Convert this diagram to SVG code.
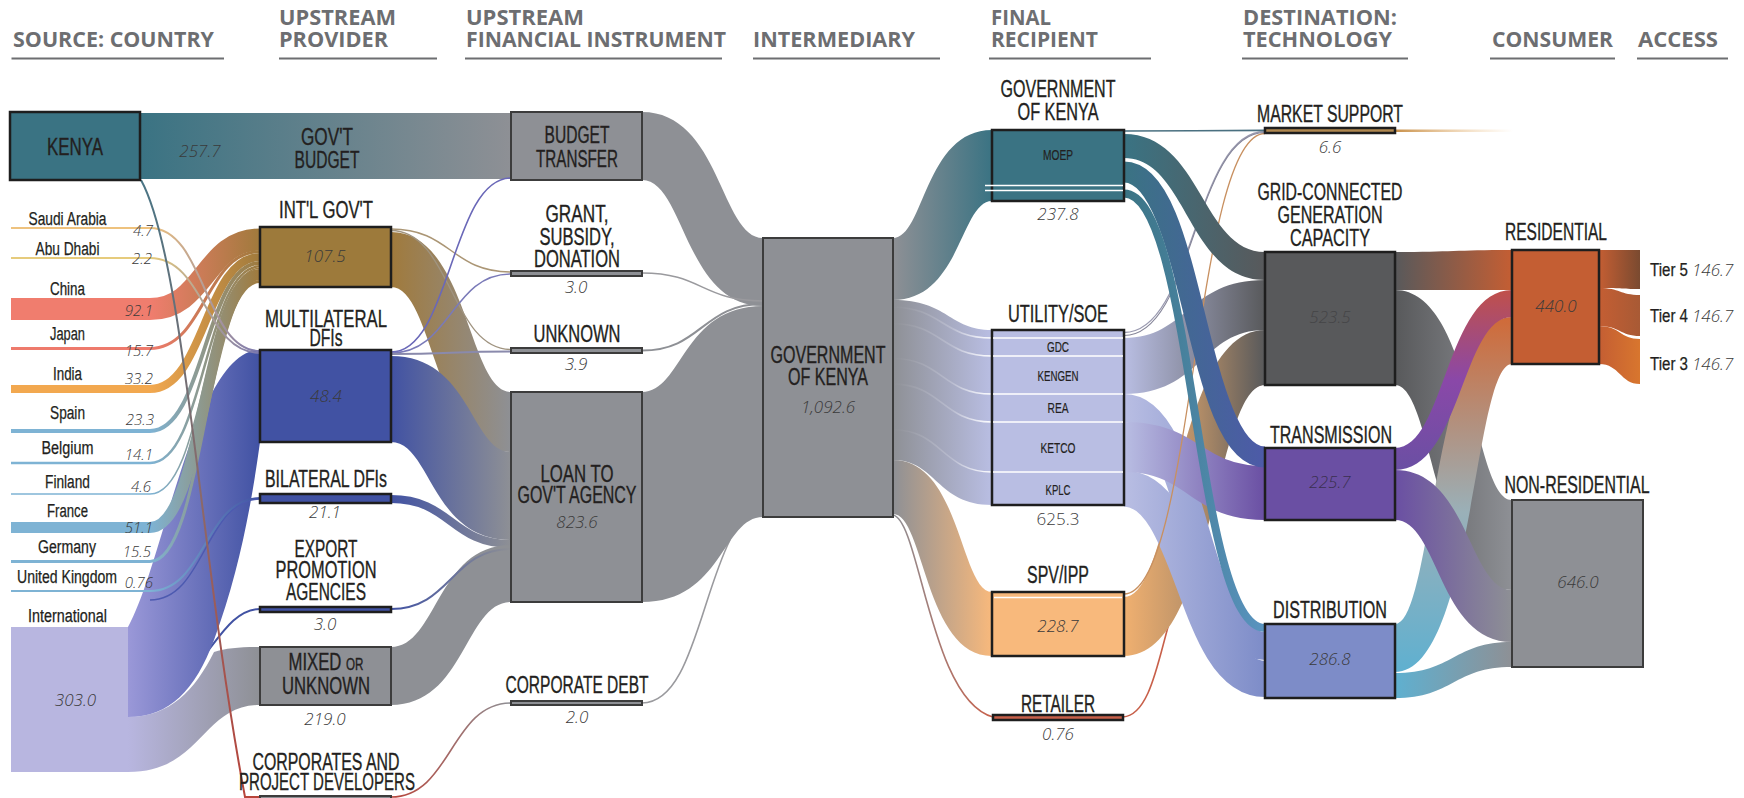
<svg xmlns="http://www.w3.org/2000/svg" width="1744" height="798" viewBox="0 0 1744 798">
<defs>
<style>
.hdr{font-family:"Open Sans","Liberation Sans",Arial,sans-serif;font-weight:700;font-size:21px;fill:#6d6e71}
.rule{stroke:#6d6e71;stroke-width:2}
.lbl{font-family:"Liberation Sans Narrow","Liberation Sans",Arial,sans-serif;font-size:23px;fill:#231f20;stroke:#231f20;stroke-width:0.35;text-anchor:middle}
.cty{font-size:18px;stroke-width:0.25}
.sub{font-size:15px;stroke-width:0.2}
.val{font-family:"Open Sans","Liberation Sans",Arial,sans-serif;font-style:italic;font-weight:300;font-size:17px;fill:#3a3a3a;text-anchor:middle}
.cv{font-size:15px;text-anchor:end}
.up{font-style:normal}
.box{stroke:#1e1e1e;stroke-width:2.5}
.gbox{fill:#8e9095;stroke:#3c3c3c;stroke-width:2}
.ln{fill:none}
.sep{fill:none;stroke:#fff;stroke-width:1.6}
.gray{fill:#8e9095}
</style>
<linearGradient id="gKB"><stop offset="0" stop-color="#3a7383"/><stop offset="1" stop-color="#8e9095"/></linearGradient>
<linearGradient id="gCn"><stop offset="0" stop-color="#f07d6e"/><stop offset=".56" stop-color="#f07d6e"/><stop offset="1" stop-color="#a07a3c"/></linearGradient>
<linearGradient id="gJp"><stop offset="0" stop-color="#ee7a6c"/><stop offset=".56" stop-color="#ee7a6c"/><stop offset="1" stop-color="#a07a3c"/></linearGradient>
<linearGradient id="gIn"><stop offset="0" stop-color="#f2a84f"/><stop offset=".56" stop-color="#f2a84f"/><stop offset="1" stop-color="#a07a3c"/></linearGradient>
<linearGradient id="gBl"><stop offset="0" stop-color="#7eb3d4"/><stop offset=".56" stop-color="#7eb3d4"/><stop offset="1" stop-color="#a07a3c"/></linearGradient>
<linearGradient id="gBlM"><stop offset="0" stop-color="#7eb3d4"/><stop offset=".56" stop-color="#7eb3d4"/><stop offset="1" stop-color="#4152a3"/></linearGradient>
<linearGradient id="gSa"><stop offset="0" stop-color="#eec27e"/><stop offset=".56" stop-color="#eec27e"/><stop offset="1" stop-color="#7a78b0"/></linearGradient>
<linearGradient id="gAb"><stop offset="0" stop-color="#e6cb7c"/><stop offset=".56" stop-color="#e6cb7c"/><stop offset="1" stop-color="#7a78b0"/></linearGradient>
<linearGradient id="gKR" x1="0" y1="0" x2="0" y2="1"><stop offset="0" stop-color="#4a7585"/><stop offset=".5" stop-color="#8a6a6a"/><stop offset="1" stop-color="#b8443a"/></linearGradient>
<linearGradient id="gIntML"><stop offset="0" stop-color="#9a98d8"/><stop offset="1" stop-color="#4152a3"/></linearGradient>
<linearGradient id="gIntGr"><stop offset="0" stop-color="#b8b6e0"/><stop offset="1" stop-color="#8e9095"/></linearGradient>
<linearGradient id="gIGGr"><stop offset="0" stop-color="#a07a3c"/><stop offset="1" stop-color="#8e9095"/></linearGradient>
<linearGradient id="gMLGr"><stop offset="0" stop-color="#4152a3"/><stop offset="1" stop-color="#8e9095"/></linearGradient>
<linearGradient id="gRedGr"><stop offset="0" stop-color="#b8443a"/><stop offset="1" stop-color="#8e9095"/></linearGradient>
<linearGradient id="gGrTeal"><stop offset="0" stop-color="#8e9095"/><stop offset="1" stop-color="#3a7383"/></linearGradient>
<linearGradient id="gGrLav"><stop offset="0" stop-color="#8e9095"/><stop offset="1" stop-color="#b9bee3"/></linearGradient>
<linearGradient id="gGrOr"><stop offset="0" stop-color="#8e9095"/><stop offset="1" stop-color="#f8b97c"/></linearGradient>
<linearGradient id="gGrRed"><stop offset="0" stop-color="#8e9095"/><stop offset="1" stop-color="#c8604a"/></linearGradient>
<linearGradient id="gWf"><stop offset="0" stop-color="#fff" stop-opacity="0"/><stop offset=".6" stop-color="#fff" stop-opacity="0.2"/><stop offset="1" stop-color="#fff" stop-opacity="1"/></linearGradient>
<linearGradient id="gTealDk"><stop offset="0" stop-color="#3a7383"/><stop offset="1" stop-color="#58595b"/></linearGradient>
<linearGradient id="gTealBl"><stop offset="0" stop-color="#3a7383"/><stop offset="1" stop-color="#4d5aa8"/></linearGradient>
<linearGradient id="gTealDi"><stop offset="0" stop-color="#3a7383"/><stop offset="1" stop-color="#5a94c0"/></linearGradient>
<linearGradient id="gLavDk"><stop offset="0" stop-color="#b9bee3"/><stop offset="1" stop-color="#58595b"/></linearGradient>
<linearGradient id="gLavPu"><stop offset="0" stop-color="#b9bee3"/><stop offset="1" stop-color="#6a4fa3"/></linearGradient>
<linearGradient id="gLavDi"><stop offset="0" stop-color="#b9bee3"/><stop offset="1" stop-color="#7d8cc8"/></linearGradient>
<linearGradient id="gOrDk"><stop offset="0" stop-color="#f0b070"/><stop offset=".5" stop-color="#b89068"/><stop offset="1" stop-color="#58595b"/></linearGradient>
<linearGradient id="gDkRes"><stop offset="0" stop-color="#58595b"/><stop offset="1" stop-color="#c45e33"/></linearGradient>
<linearGradient id="gDkGr"><stop offset="0" stop-color="#58595b"/><stop offset="1" stop-color="#8e9095"/></linearGradient>
<linearGradient id="gPuRes" x1="0" y1="1" x2="0" y2="0"><stop offset="0" stop-color="#6a4fa3"/><stop offset=".5" stop-color="#8a48a8"/><stop offset="1" stop-color="#c0504a"/></linearGradient>
<linearGradient id="gPuGr"><stop offset="0" stop-color="#6a4fa3"/><stop offset="1" stop-color="#8e9095"/></linearGradient>
<linearGradient id="gDiRes" x1="0" y1="1" x2="0" y2="0"><stop offset="0" stop-color="#5fb0d0"/><stop offset=".45" stop-color="#9ab0b8"/><stop offset="1" stop-color="#d06a38"/></linearGradient>
<linearGradient id="gDiGr"><stop offset="0" stop-color="#5fb0d0"/><stop offset="1" stop-color="#8e9095"/></linearGradient>
<linearGradient id="gT5"><stop offset="0" stop-color="#c45e33"/><stop offset="1" stop-color="#7a4a30"/></linearGradient>
<linearGradient id="gT4"><stop offset="0" stop-color="#c45e33"/><stop offset="1" stop-color="#a85a35"/></linearGradient>
<linearGradient id="gT3"><stop offset="0" stop-color="#c45e33"/><stop offset="1" stop-color="#d8762e"/></linearGradient>
<linearGradient id="gMS"><stop offset="0" stop-color="#c8904a"/><stop offset="1" stop-color="#f0c080" stop-opacity="0"/></linearGradient>
</defs>
<rect width="1744" height="798" fill="#fff"/>

<g id="headers">
<text class="hdr" x="13" y="47" textLength="201" lengthAdjust="spacingAndGlyphs">SOURCE: COUNTRY</text>
<text class="hdr"><tspan x="279" y="25" textLength="117" lengthAdjust="spacingAndGlyphs">UPSTREAM</tspan><tspan x="279" y="47" textLength="109" lengthAdjust="spacingAndGlyphs">PROVIDER</tspan></text>
<text class="hdr"><tspan x="466" y="25" textLength="118" lengthAdjust="spacingAndGlyphs">UPSTREAM</tspan><tspan x="466" y="47" textLength="260" lengthAdjust="spacingAndGlyphs">FINANCIAL INSTRUMENT</tspan></text>
<text class="hdr" x="753" y="47" textLength="162" lengthAdjust="spacingAndGlyphs">INTERMEDIARY</text>
<text class="hdr"><tspan x="991" y="25" textLength="60" lengthAdjust="spacingAndGlyphs">FINAL</tspan><tspan x="991" y="47" textLength="107" lengthAdjust="spacingAndGlyphs">RECIPIENT</tspan></text>
<text class="hdr"><tspan x="1243" y="25" textLength="154" lengthAdjust="spacingAndGlyphs">DESTINATION:</tspan><tspan x="1243" y="47" textLength="149" lengthAdjust="spacingAndGlyphs">TECHNOLOGY</tspan></text>
<text class="hdr" x="1492" y="47" textLength="121" lengthAdjust="spacingAndGlyphs">CONSUMER</text>
<text class="hdr" x="1638" y="47" textLength="80" lengthAdjust="spacingAndGlyphs">ACCESS</text>
<path class="rule" d="M11.5,58.5H224M279,58.5H437M465,58.5H722M753,58.5H940M989,58.5H1151M1242,58.5H1408M1490,58.5H1615M1637,58.5H1728"/>
</g>

<g id="connectors">
<path d="M140,113H511V179H140Z" fill="url(#gKB)"/>
<path class="ln" d="M160,690C205,680 220,609 260,609" stroke="#4152a3" stroke-width="2"/>
<path d="M128,717C170,717 195,690 214,652C226,648 240,647 260,647L260,705C202,705 202,772 128,772Z" fill="url(#gIntGr)"/>
<path d="M128,627C165,560 195,350 260,350L260,442C252,500 240,570 214,640C195,690 170,717 128,717Z" fill="url(#gIntML)"/>
<path class="ln" d="M150,600C205,600 205,499 260,499" stroke="#4d5ab0" stroke-width="1.5"/>
<path class="ln" d="M11,309H150C205,309 205,239.5 260,239.5" stroke="url(#gCn)" stroke-width="22"/>
<path class="ln" d="M11,348.5H150C205,348.5 205,251.5 260,251.5" stroke="url(#gJp)" stroke-width="3"/>
<path class="ln" d="M11,389H150C205,389 205,257 260,257" stroke="url(#gIn)" stroke-width="8"/>
<path class="ln" d="M11,431H150C205,431 205,263 260,263" stroke="url(#gBl)" stroke-width="4"/>
<path class="ln" d="M11,463H150C205,463 205,266.3 260,266.3" stroke="url(#gBl)" stroke-width="2.5"/>
<path class="ln" d="M11,494H150C205,494 205,268.3 260,268.3" stroke="url(#gBl)" stroke-width="1.6"/>
<path class="ln" d="M11,527.5H150C205,527.5 205,274.5 260,274.5" stroke="url(#gBl)" stroke-width="11"/>
<path class="ln" d="M11,561.5H150C205,561.5 205,281.5 260,281.5" stroke="url(#gBl)" stroke-width="3"/>
<path class="ln" d="M11,591H150C205,591 205,498 260,498" stroke="url(#gBlM)" stroke-width="2"/>
<path class="ln" d="M11,228H150C205,228 205,351 260,351" stroke="url(#gSa)" stroke-width="2"/>
<path class="ln" d="M11,258H150C205,258 205,353 260,353" stroke="url(#gAb)" stroke-width="2"/>
<path class="ln" d="M141,180C185,260 200,560 245,797L262,797" stroke="url(#gKR)" stroke-width="2"/>

<path d="M391,232C468,232 468,392 511,392L511,452C434,452 434,287 391,287Z" fill="url(#gIGGr)"/>
<path d="M391,356C471,356 471,452 511,452L511,540C431,540 431,442 391,442Z" fill="url(#gMLGr)"/>
<path class="ln" d="M391,499C451,499 451,544 511,544" stroke="url(#gMLGr)" stroke-width="8"/>
<path d="M391,647C437,647 437,545 511,545L511,602C465,602 465,705 391,705Z" class="gray"/>
<path class="ln" d="M391,609C451,609 451,549 511,549" stroke="url(#gMLGr)" stroke-width="2"/>
<path class="ln" d="M391,229C451,229 451,272 511,272" stroke="#ab9675" stroke-width="1.5"/>
<path class="ln" d="M391,230.5C451,230.5 451,349.5 511,349.5" stroke="#a09480" stroke-width="1.3"/>
<path class="ln" d="M391,352C451,352 451,178 511,178" stroke="#6a68b8" stroke-width="1.6"/>
<path class="ln" d="M391,353C451,353 451,274 511,274" stroke="#7a7ab8" stroke-width="1.5"/>
<path class="ln" d="M391,354C451,354 451,351.5 511,351.5" stroke="#8a8aac" stroke-width="2"/>
<path class="ln" d="M391,797C451,797 451,703 511,703" stroke="url(#gRedGr)" stroke-width="1.6"/>

<path d="M642,112C720.5,112 720.5,238 763,238L763,306C684.5,306 684.5,180 642,180Z" class="gray"/>
<path class="ln" d="M642,703C690,703 700,600 730,540" stroke="#9a9a9e" stroke-width="1.6"/>
<path d="M642,392C682.5,392 682.5,306 763,306L763,517C722.5,517 722.5,602 642,602Z" class="gray"/>
<path class="ln" d="M642,273C702,273 702,301 763,301" stroke="#9a9a9e" stroke-width="1.5"/>
<path class="ln" d="M642,350.5C702,350.5 702,304 763,304" stroke="#8e9095" stroke-width="2"/>

<path d="M893,300C948.5,300 948.5,330 992,330L992,505C936.5,505 936.5,460 893,460Z" fill="url(#gGrLav)"/>
<path d="M893,238C924.5,238 924.5,130 992,130L992,201C960.5,201 960.5,300 893,300Z" fill="url(#gGrTeal)"/>
<path d="M893,460C960.5,460 960.5,592 992,592L992,656C924.5,656 924.5,514 893,514Z" fill="url(#gGrOr)"/>
<path class="ln" d="M893,307.3C942,307.3 942,338 992,338M893,323.8C942,323.8 942,356 992,356M893,358.5C942,358.5 942,394 992,394M893,384.1C942,384.1 942,422 992,422M893,429.8C942,429.8 942,472 992,472" stroke="url(#gWf)" stroke-width="1.6"/>
<path class="ln" d="M893,515C920,520 930,700 993,717" stroke="url(#gGrRed)" stroke-width="1.6"/>

<path class="ln" d="M1123,717C1150,715 1158,660 1170,620C1190,520 1230,384 1265,384" stroke="#c8604a" stroke-width="1.6"/>
<path d="M1124,597C1174.5,597 1174.5,330 1265,330L1265,385C1214.5,385 1214.5,656 1124,656Z" fill="url(#gOrDk)"/>
<path d="M1124,338C1187.5,338 1187.5,280 1265,280L1265,330C1201.5,330 1201.5,394 1124,394Z" fill="url(#gLavDk)"/>
<path class="ln" d="M1124,408C1194,408 1194,646 1265,646" stroke="url(#gLavDi)" stroke-width="28"/>
<path class="ln" d="M1124,488.5C1194,488.5 1194,679 1265,679" stroke="url(#gLavDi)" stroke-width="36"/>
<path d="M1124,422C1199.5,422 1199.5,466 1265,466L1265,520C1189.5,520 1189.5,472 1124,472Z" fill="url(#gLavPu)"/>
<path class="ln" d="M1124,594C1194,594 1194,133.5 1265,133.5" stroke="#c89060" stroke-width="1.3"/>
<path class="ln" d="M1124,332.5C1194,332.5 1194,131.5 1265,131.5" stroke="#9a9ab0" stroke-width="1.3"/>
<path class="ln" d="M1124,335.5C1194,335.5 1194,132.5 1265,132.5" stroke="#86869a" stroke-width="1.1"/>
<path d="M1124,134C1201.5,134 1201.5,252 1265,252L1265,280C1187.5,280 1187.5,158 1124,158Z" fill="url(#gTealDk)"/>
<path class="ln" d="M1124,172C1194.5,172 1194.5,457 1265,457" stroke="url(#gTealBl)" stroke-width="21"/>
<path class="ln" d="M1124,193.5C1194.5,193.5 1194.5,628 1265,628" stroke="url(#gTealDi)" stroke-width="8"/>
<path class="ln" d="M1124,131C1194,131 1194,130.4 1265,130.4" stroke="#4a7080" stroke-width="1.6"/>

<rect x="1395" y="129.5" width="118" height="2.5" fill="url(#gMS)"/>
<path d="M1395,290C1473.5,290 1473.5,500 1512,500L1512,590C1433.5,590 1433.5,385 1395,385Z" fill="url(#gDkGr)"/>
<path d="M1395,624C1433.5,624 1433.5,317 1512,317L1512,364C1473.5,364 1473.5,672 1395,672Z" fill="url(#gDiRes)"/>
<path d="M1395,673C1453.5,673 1453.5,642 1512,642L1512,667C1453.5,667 1453.5,698 1395,698Z" fill="url(#gDiGr)"/>
<path d="M1395,470C1468.5,470 1468.5,590 1512,590L1512,642C1438.5,642 1438.5,520 1395,520Z" fill="url(#gPuGr)"/>
<path d="M1395,448C1445.5,448 1445.5,290 1512,290L1512,317C1461.5,317 1461.5,470 1395,470Z" fill="url(#gPuRes)"/>
<path d="M1395,252C1453.5,252 1453.5,250 1512,250L1512,290C1453.5,290 1453.5,290 1395,290Z" fill="url(#gDkRes)"/>

<path d="M1599,250C1620,250 1620,250 1640,250L1640,289C1620,289 1620,288 1599,288Z" fill="url(#gT5)"/>
<path d="M1599,288C1620,288 1620,295 1640,295L1640,336C1620,336 1620,326 1599,326Z" fill="url(#gT4)"/>
<path d="M1599,326C1620,326 1620,339 1640,339L1640,384C1620,384 1620,364 1599,364Z" fill="url(#gT3)"/>
</g>

<g id="node-kenya">
<rect class="box" x="10" y="112" width="130" height="68" fill="#3a7383"/>
<text class="lbl" x="75" y="155" textLength="56" lengthAdjust="spacingAndGlyphs">KENYA</text>
<text class="val" x="200" y="157">257.7</text>
</g>
<g id="node-saudi-arabia"><text class="lbl cty" x="67.5" y="225" textLength="78" lengthAdjust="spacingAndGlyphs">Saudi Arabia</text><text class="val cv" x="153" y="236">4.7</text></g>
<g id="node-abu-dhabi"><text class="lbl cty" x="67.5" y="255" textLength="64" lengthAdjust="spacingAndGlyphs">Abu Dhabi</text><text class="val cv" x="152" y="264">2.2</text></g>
<g id="node-china"><text class="lbl cty" x="67.5" y="295" textLength="35" lengthAdjust="spacingAndGlyphs">China</text><text class="val cv" x="153" y="316">92.1</text></g>
<g id="node-japan"><text class="lbl cty" x="67.5" y="340" textLength="35" lengthAdjust="spacingAndGlyphs">Japan</text><text class="val cv" x="153" y="356">15.7</text></g>
<g id="node-india"><text class="lbl cty" x="67.5" y="380" textLength="29" lengthAdjust="spacingAndGlyphs">India</text><text class="val cv" x="153" y="384">33.2</text></g>
<g id="node-spain"><text class="lbl cty" x="67.5" y="419" textLength="35" lengthAdjust="spacingAndGlyphs">Spain</text><text class="val cv" x="154" y="425">23.3</text></g>
<g id="node-belgium"><text class="lbl cty" x="67.5" y="454" textLength="52" lengthAdjust="spacingAndGlyphs">Belgium</text><text class="val cv" x="153" y="460">14.1</text></g>
<g id="node-finland"><text class="lbl cty" x="67.5" y="488" textLength="45" lengthAdjust="spacingAndGlyphs">Finland</text><text class="val cv" x="151" y="492">4.6</text></g>
<g id="node-france"><text class="lbl cty" x="67.5" y="517" textLength="41" lengthAdjust="spacingAndGlyphs">France</text><text class="val cv" x="153" y="533">51.1</text></g>
<g id="node-germany"><text class="lbl cty" x="67" y="553" textLength="58" lengthAdjust="spacingAndGlyphs">Germany</text><text class="val cv" x="151" y="557">15.5</text></g>
<g id="node-united-kingdom"><text class="lbl cty" x="67" y="583" textLength="100" lengthAdjust="spacingAndGlyphs">United Kingdom</text><text class="val cv" x="153" y="588">0.76</text></g>
<g id="node-international">
<rect x="11" y="627" width="117" height="145" fill="#b8b6e0"/>
<text class="lbl cty" x="67.5" y="622" textLength="79" lengthAdjust="spacingAndGlyphs">International</text>
<text class="val" x="75.5" y="706">303.0</text>
</g>

<g id="node-govt-budget">
<text class="lbl"><tspan x="327" y="145" textLength="52" lengthAdjust="spacingAndGlyphs">GOV'T</tspan><tspan x="327" y="168" textLength="65" lengthAdjust="spacingAndGlyphs">BUDGET</tspan></text>
</g>
<g id="node-intl-govt">
<rect class="box" x="260" y="227" width="131" height="60" fill="#9d7a3b"/>
<text class="lbl" x="326" y="218" textLength="94" lengthAdjust="spacingAndGlyphs">INT'L GOV'T</text>
<text class="val" x="325" y="262">107.5</text>
</g>
<g id="node-multilateral">
<rect class="box" x="260" y="350" width="131" height="92" fill="#4152a3"/>
<text class="lbl"><tspan x="326" y="327" textLength="122" lengthAdjust="spacingAndGlyphs">MULTILATERAL</tspan><tspan x="326" y="346" textLength="33" lengthAdjust="spacingAndGlyphs">DFIs</tspan></text>
<text class="val" x="326" y="402">48.4</text>
</g>
<g id="node-bilateral">
<rect class="box" x="260" y="494" width="131" height="9" fill="#4152a3"/>
<text class="lbl" x="326" y="487" textLength="122" lengthAdjust="spacingAndGlyphs">BILATERAL DFIs</text>
<text class="val" x="325" y="518">21.1</text>
</g>
<g id="node-export">
<rect class="box" x="260" y="607" width="131" height="5" fill="#4152a3" stroke-width="1.8"/>
<text class="lbl"><tspan x="326" y="557" textLength="63" lengthAdjust="spacingAndGlyphs">EXPORT</tspan><tspan x="326" y="578" textLength="101" lengthAdjust="spacingAndGlyphs">PROMOTION</tspan><tspan x="326" y="600" textLength="80" lengthAdjust="spacingAndGlyphs">AGENCIES</tspan></text>
<text class="val" x="325" y="630">3.0</text>
</g>
<g id="node-mixed">
<rect class="gbox" x="260" y="647" width="131" height="58"/>
<text class="lbl"><tspan x="326" y="670" textLength="75" lengthAdjust="spacingAndGlyphs">MIXED <tspan font-size="16">OR</tspan></tspan><tspan x="326" y="694" textLength="88" lengthAdjust="spacingAndGlyphs">UNKNOWN</tspan></text>
<text class="val" x="325" y="725">219.0</text>
</g>
<g id="node-corporates">
<rect class="gbox" x="260" y="796" width="131" height="4" stroke-width="1.2"/>
<text class="lbl"><tspan x="326" y="770" textLength="147" lengthAdjust="spacingAndGlyphs">CORPORATES AND</tspan><tspan x="327" y="790" textLength="176" lengthAdjust="spacingAndGlyphs">PROJECT DEVELOPERS</tspan></text>
</g>

<g id="node-budget-transfer">
<rect class="gbox" x="511" y="112" width="131" height="68"/>
<text class="lbl"><tspan x="577" y="143" textLength="65" lengthAdjust="spacingAndGlyphs">BUDGET</tspan><tspan x="577" y="167" textLength="82" lengthAdjust="spacingAndGlyphs">TRANSFER</tspan></text>
</g>
<g id="node-grant">
<rect class="gbox" x="511" y="271" width="131" height="5" stroke-width="1.6"/>
<text class="lbl"><tspan x="577" y="222" textLength="63" lengthAdjust="spacingAndGlyphs">GRANT,</tspan><tspan x="577" y="245" textLength="75" lengthAdjust="spacingAndGlyphs">SUBSIDY,</tspan><tspan x="577" y="267" textLength="86" lengthAdjust="spacingAndGlyphs">DONATION</tspan></text>
<text class="val" x="576" y="293">3.0</text>
</g>
<g id="node-unknown">
<rect class="gbox" x="511" y="348" width="131" height="5" stroke-width="1.6"/>
<text class="lbl" x="577" y="342" textLength="87" lengthAdjust="spacingAndGlyphs">UNKNOWN</text>
<text class="val" x="576" y="370">3.9</text>
</g>
<g id="node-loan">
<rect class="gbox" x="511" y="392" width="131" height="210"/>
<text class="lbl"><tspan x="577" y="482" textLength="73" lengthAdjust="spacingAndGlyphs">LOAN TO</tspan><tspan x="577" y="503" textLength="119" lengthAdjust="spacingAndGlyphs">GOV'T AGENCY</tspan></text>
<text class="val" x="577" y="528">823.6</text>
</g>
<g id="node-corporate-debt">
<rect class="gbox" x="511" y="701" width="131" height="4" stroke-width="1.6"/>
<text class="lbl" x="577" y="693" textLength="143" lengthAdjust="spacingAndGlyphs">CORPORATE DEBT</text>
<text class="val" x="577" y="723">2.0</text>
</g>

<g id="node-gok-intermediary">
<rect class="gbox" x="763" y="238" width="130" height="279"/>
<text class="lbl"><tspan x="828" y="363" textLength="115" lengthAdjust="spacingAndGlyphs">GOVERNMENT</tspan><tspan x="828" y="385" textLength="80" lengthAdjust="spacingAndGlyphs">OF KENYA</tspan></text>
<text class="val" x="828" y="413">1,092.6</text>
</g>

<g id="node-gok-moep">
<rect class="box" x="992" y="130" width="132" height="71" fill="#3a7383"/>
<path class="sep" d="M985,185.5H1123M985,190.5H1123"/>
<text class="lbl"><tspan x="1058" y="97" textLength="115" lengthAdjust="spacingAndGlyphs">GOVERNMENT</tspan><tspan x="1058" y="120" textLength="81" lengthAdjust="spacingAndGlyphs">OF KENYA</tspan></text>
<text class="lbl sub" x="1058" y="160" font-size="14" textLength="30" lengthAdjust="spacingAndGlyphs">MOEP</text>
<text class="val" x="1058" y="220">237.8</text>
</g>
<g id="node-utility">
<rect class="box" x="992" y="330" width="132" height="175" fill="#b9bee3"/>
<path class="sep" d="M993,338H1123M993,356H1123M993,394H1123M993,422H1123M993,472H1123"/>
<text class="lbl" x="1058" y="322" textLength="100" lengthAdjust="spacingAndGlyphs">UTILITY/SOE</text>
<text class="lbl sub" x="1058" y="352" textLength="22" lengthAdjust="spacingAndGlyphs">GDC</text>
<text class="lbl sub" x="1058" y="381" textLength="41" lengthAdjust="spacingAndGlyphs">KENGEN</text>
<text class="lbl sub" x="1058" y="413" textLength="21" lengthAdjust="spacingAndGlyphs">REA</text>
<text class="lbl sub" x="1058" y="453" textLength="35" lengthAdjust="spacingAndGlyphs">KETCO</text>
<text class="lbl sub" x="1058" y="495" textLength="25" lengthAdjust="spacingAndGlyphs">KPLC</text>
<text class="val up" x="1058" y="525">625.3</text>
</g>
<g id="node-spv">
<rect class="box" x="992" y="592" width="132" height="64" fill="#f8b97c"/>
<path class="sep" d="M994,597.5H1122"/>
<text class="lbl" x="1058" y="583" textLength="62" lengthAdjust="spacingAndGlyphs">SPV/IPP</text>
<text class="val" x="1058" y="632">228.7</text>
</g>
<g id="node-retailer">
<rect class="box" x="993" y="715" width="130" height="5" fill="#c8604a" stroke-width="1.8"/>
<text class="lbl" x="1058" y="712" textLength="74" lengthAdjust="spacingAndGlyphs">RETAILER</text>
<text class="val" x="1058" y="740">0.76</text>
</g>

<g id="node-market-support">
<rect class="box" x="1265" y="128" width="130" height="5" fill="#b08850" stroke-width="1.8"/>
<text class="lbl" x="1330" y="122" textLength="146" lengthAdjust="spacingAndGlyphs">MARKET SUPPORT</text>
<text class="val" x="1330" y="153">6.6</text>
</g>
<g id="node-grid">
<rect class="box" x="1265" y="252" width="130" height="133" fill="#58595b"/>
<text class="lbl"><tspan x="1330" y="200" textLength="145" lengthAdjust="spacingAndGlyphs">GRID-CONNECTED</tspan><tspan x="1330" y="223" textLength="105" lengthAdjust="spacingAndGlyphs">GENERATION</tspan><tspan x="1330" y="246" textLength="80" lengthAdjust="spacingAndGlyphs">CAPACITY</tspan></text>
<text class="val" x="1330" y="323" style="fill:#454547">523.5</text>
</g>
<g id="node-transmission">
<rect class="box" x="1265" y="448" width="130" height="72" fill="#6a4fa3"/>
<text class="lbl" x="1331" y="443" textLength="122" lengthAdjust="spacingAndGlyphs">TRANSMISSION</text>
<text class="val" x="1330" y="488" style="fill:#3a3050">225.7</text>
</g>
<g id="node-distribution">
<rect class="box" x="1265" y="624" width="130" height="74" fill="#7d8cc8"/>
<text class="lbl" x="1330" y="618" textLength="114" lengthAdjust="spacingAndGlyphs">DISTRIBUTION</text>
<text class="val" x="1330" y="665">286.8</text>
</g>

<g id="node-residential">
<rect class="box" x="1512" y="250" width="87" height="114" fill="#c45e33"/>
<text class="lbl" x="1556" y="240" textLength="102" lengthAdjust="spacingAndGlyphs">RESIDENTIAL</text>
<text class="val" x="1556" y="312">440.0</text>
</g>
<g id="node-non-residential">
<rect class="gbox" x="1512" y="500" width="131" height="167"/>
<text class="lbl" x="1577" y="493" textLength="145" lengthAdjust="spacingAndGlyphs">NON-RESIDENTIAL</text>
<text class="val" x="1578" y="588">646.0</text>
</g>

<g id="node-tier5"><text class="lbl cty" style="text-anchor:start" x="1650" y="276" textLength="38" lengthAdjust="spacingAndGlyphs">Tier 5</text><text class="val" style="text-anchor:start" x="1692" y="276" font-size="16">146.7</text></g>
<g id="node-tier4"><text class="lbl cty" style="text-anchor:start" x="1650" y="322" textLength="38" lengthAdjust="spacingAndGlyphs">Tier 4</text><text class="val" style="text-anchor:start" x="1692" y="322" font-size="16">146.7</text></g>
<g id="node-tier3"><text class="lbl cty" style="text-anchor:start" x="1650" y="370" textLength="38" lengthAdjust="spacingAndGlyphs">Tier 3</text><text class="val" style="text-anchor:start" x="1692" y="370" font-size="16">146.7</text></g>
</svg>
